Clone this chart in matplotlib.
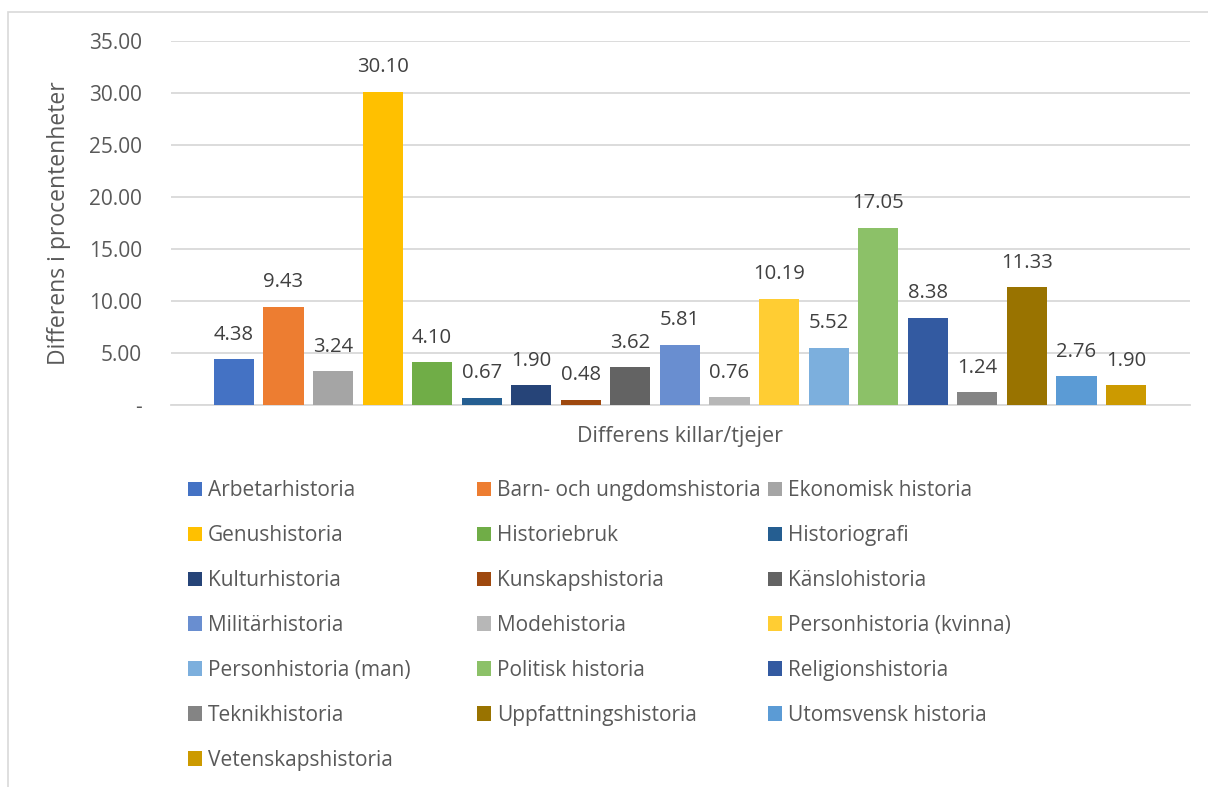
import numpy as np
import matplotlib.pyplot as plt
from matplotlib.patches import Rectangle, Patch

plt.rcParams['font.family'] = ['Open Sans', 'DejaVu Sans']

# Data
category = 'Differens killar/tjejer'
series = ['Arbetarhistoria', 'Barn- och ungdomshistoria', 'Ekonomisk historia',
          'Genushistoria', 'Historiebruk', 'Historiografi',
          'Kulturhistoria', 'Kunskapshistoria', 'Känslohistoria',
          'Militärhistoria', 'Modehistoria', 'Personhistoria (kvinna)',
          'Personhistoria (man)', 'Politisk historia', 'Religionshistoria',
          'Teknikhistoria', 'Uppfattningshistoria', 'Utomsvensk historia',
          'Vetenskapshistoria']
values = [4.38, 9.43, 3.24, 30.10, 4.10, 0.67, 1.90, 0.48, 3.62, 5.81,
          0.76, 10.19, 5.52, 17.05, 8.38, 1.24, 11.33, 2.76, 1.90]
colors = ['#4472C4', '#ED7D31', '#A5A5A5', '#FFC000', '#70AD47', '#255E91',
          '#264478', '#9E480E', '#636363', '#698ED0', '#B7B7B7', '#FFCD33',
          '#7CAFDD', '#8CC168', '#335AA1', '#848484', '#997300', '#5B9BD5',
          '#CC9A00']
yticks = [0, 5, 10, 15, 20, 25, 30, 35]

text_col = '#595959'
W, H = 1208, 787
fig = plt.figure(figsize=(W / 100, H / 100), dpi=100)

# outer chart frame (cut off at right and bottom, as in the reference)
fig.patches.append(Rectangle((8 / W, -0.1), 1.2, 1 - 12 / H + 0.1,
                             transform=fig.transFigure, fill=False,
                             edgecolor='#D9D9D9', linewidth=1.2))

ax = fig.add_axes([171 / W, 1 - 405 / H, (1190 - 171) / W, (405 - 41) / H])

n = len(values)
width = 1.0 / (n + 2.5)
offsets = (np.arange(n) - (n - 1) / 2) * width
for off, v, c in zip(offsets, values, colors):
    ax.bar(off, v, width=width * 0.81, color=c, zorder=3)
    ax.annotate(f'{v:.2f}', (off, v), xytext=(0, 10.5), textcoords='offset points',
                ha='center', va='bottom', fontsize=14.6, color='#404040')

half = (n - 1) / 2 * width + width * 1.27
ax.set_xlim(-half, half + 0.001)
ax.set_ylim(0, 35)
ax.set_yticks(yticks)
ax.set_yticklabels(['-' if t == 0 else f'{t:.2f}' for t in yticks])
ax.set_xticks([0])
ax.set_xticklabels([category], fontsize=15.5)
ax.yaxis.grid(True, color='#D9D9D9', linewidth=1.3, zorder=0)
for s in ['top', 'right', 'left']:
    ax.spines[s].set_visible(False)
ax.spines['bottom'].set_color('#D9D9D9')
ax.spines['bottom'].set_linewidth(1.3)
ax.tick_params(axis='both', length=0, labelcolor=text_col)
ax.tick_params(axis='y', pad=21, labelsize=15)
ax.tick_params(axis='x', pad=15)
ax.set_ylabel('Differens i procentenheter', fontsize=16.5, color=text_col,
              labelpad=13)

# legend is laid out row by row in three columns, one legend per column
ncol = 3
col_x = [188, 477, 768]
for c in range(ncol):
    idx = list(range(c, n, ncol))
    leg = fig.legend([Patch(facecolor=colors[i]) for i in idx],
                     [series[i] for i in idx],
                     loc='upper left', bbox_to_anchor=(col_x[c] / W, 1 - 480 / H),
                     frameon=False, fontsize=15, labelcolor=text_col,
                     handlelength=0.67, handleheight=0.67, handletextpad=0.3,
                     labelspacing=1.15, borderaxespad=0, borderpad=0)

fig.savefig('out.png', dpi=100)
